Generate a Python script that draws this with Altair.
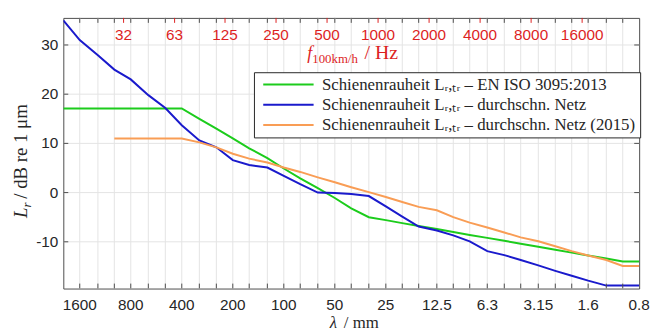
import altair as alt
import pandas as pd

# --- data ---------------------------------------------------------------
wavelength_mm = [2000, 1600, 1250, 1000, 800, 630, 500, 400, 315, 250, 200, 160,
                 125, 100, 80, 63, 50, 40, 31.5, 25, 20, 16, 12.5, 10, 8, 6.3,
                 5, 4, 3.15, 2.5, 2, 1.6, 1.25, 1, 0.8]

rail_iso3095 = [17.1, 17.1, 17.1, 17.1, 17.1, 17.1, 17.1, 17.1, 15.0, 13.0, 11.0, 9.0,
                7.0, 4.9, 2.9, 0.9, -1.1, -3.2, -5.0, -5.6, -6.2, -6.8, -7.4, -8.0,
                -8.6, -9.2, -9.8, -10.4, -11.0, -11.6, -12.2, -12.8, -13.4, -14.0, -14.0]

rail_netz = [35.0, 31.0, 27.9, 25.0, 23.0, 19.8, 17.2, 13.7, 10.6, 9.2, 6.6, 5.6,
             5.1, 3.4, 1.7, 0.0, -0.1, -0.3, -0.7, -2.8, -4.9, -6.9, -7.7, -8.7,
             -9.9, -11.9, -12.7, -13.7, -14.8, -15.9, -16.9, -17.9, -18.9, -18.9, -18.9]

rail_netz_2015 = [None, None, None, 11.0, 11.0, 11.0, 11.0, 11.0, 10.2, 9.2, 7.9, 6.9,
                  6.1, 5.1, 4.2, 3.1, 2.1, 1.1, 0.1, -0.9, -1.9, -2.9, -3.6, -5.0,
                  -6.1, -7.1, -8.1, -9.1, -9.9, -10.9, -11.9, -12.8, -13.7, -14.9, -14.9]

series_names = [
    "Schienenrauheit Lᵣ,ₜᵣ – EN ISO 3095:2013",
    "Schienenrauheit Lᵣ,ₜᵣ – durchschn. Netz",
    "Schienenrauheit Lᵣ,ₜᵣ – durchschn. Netz (2015)",
]
series_colors = ["#1ccc1c", "#1a1acc", "#f99d55"]
series_widths = [2, 2, 1.5]

octave_ticks_mm = [1600, 800, 400, 200, 100, 50, 25, 12.5, 6.3, 3.15, 1.6, 0.8]
octave_labels = ["1600", "800", "400", "200", "100", "50", "25", "12.5", "6.3", "3.15", "1.6", "0.8"]
freq_hz = [31.5, 63, 125, 250, 500, 1000, 2000, 4000, 8000, 16000]
freq_labels = ["32", "63", "125", "250", "500", "1000", "2000", "4000", "8000", "16000"]
speed_kmh = 100
y_ticks = [-10, 0, 10, 20, 30]
y_labels = ["-10", "0", "10", "20", "30"]

# --- tables -------------------------------------------------------------
rows = []
for name, vals in zip(series_names, [rail_iso3095, rail_netz, rail_netz_2015]):
    for lam, v in zip(wavelength_mm, vals):
        if v is not None:
            rows.append({"lam": lam, "L": v, "series": name})
df = pd.DataFrame(rows)

speed_mm_s = speed_kmh / 3.6 * 1000.0
df_f = pd.DataFrame({"f": freq_hz, "label": freq_labels})
df_f["lam"] = speed_mm_s / df_f["f"]

df_band = pd.DataFrame({"lam": wavelength_mm[1:-1]})
df_oct = pd.DataFrame({"lam": octave_ticks_mm, "label": octave_labels})
df_y = pd.DataFrame({"y": y_ticks, "label": y_labels})
one = pd.DataFrame({"k": [0]})

W, H = 583, 274
RED = "#dd1f1f"
INK = "#262626"
FRAME = "#4d4d4d"
GRID = "#e4e4e4"
SANS = "Liberation Sans"
SERIF = "Liberation Serif"

xs = alt.Scale(type="log", domain=[0.8, 2000], reverse=True, nice=False)
ys = alt.Scale(domain=[-19.5, 35.5], nice=False, zero=False)


def X(field="lam"):
    return alt.X(f"{field}:Q", scale=xs, axis=None)


def Y(field):
    return alt.Y(f"{field}:Q", scale=ys, axis=None)


# grid
vgrid = alt.Chart(df_band).mark_rule(color=GRID, strokeWidth=1).encode(x=X())
hgrid = alt.Chart(df_y).mark_rule(color=GRID, strokeWidth=1).encode(y=Y("y"))

lines = alt.Chart(df).mark_line(clip=True).encode(
    x=X(),
    y=Y("L"),
    color=alt.Color("series:N", scale=alt.Scale(domain=series_names, range=series_colors),
                    legend=alt.Legend(orient="none", legendX=193, legendY=55, title=None,
                                      symbolType="M-5,0H5", symbolSize=104,
                                      symbolStrokeWidth=2, symbolOffset=22.4,
                                      labelFont=SERIF, labelFontSize=17, labelColor=INK,
                                      labelLimit=0, labelOffset=25.4, rowPadding=2.5,
                                      padding=4, strokeColor=INK, fillColor="white")),
    strokeWidth=alt.StrokeWidth("series:N",
                                scale=alt.Scale(domain=series_names, range=series_widths),
                                legend=None),
    order=alt.Order("lam:Q"),
)

# inward ticks on all four sides
tick_bottom = alt.Chart(df_band).mark_rule(color=FRAME).encode(
    x=X(), y=alt.value(H), y2=alt.value(H - 5))
tick_top = alt.Chart(df_band).mark_rule(color=FRAME).encode(
    x=X(), y=alt.value(0), y2=alt.value(5))
tick_top_red = alt.Chart(df_f).mark_rule(color=RED).encode(
    x=X(), y=alt.value(0), y2=alt.value(5))
tick_left = alt.Chart(df_y).mark_rule(color=FRAME).encode(
    y=Y("y"), x=alt.value(0), x2=alt.value(5))
tick_right = alt.Chart(df_y).mark_rule(color=FRAME).encode(
    y=Y("y"), x=alt.value(W - 5), x2=alt.value(W))

# tick labels
bottom_labels = alt.Chart(df_oct).mark_text(font=SANS, fontSize=15.5, color=INK,
                                            baseline="top", align="center").encode(
    x=X(), y=alt.value(H + 10), text="label:N")
left_labels = alt.Chart(df_y).mark_text(font=SANS, fontSize=15.5, color=INK,
                                        baseline="middle", align="right").encode(
    y=Y("y"), x=alt.value(-5), text="label:N")
top_labels = alt.Chart(df_f).mark_text(font=SANS, fontSize=15.5, color=RED,
                                       baseline="middle", align="center").encode(
    x=X(), y=alt.value(17), text="label:N")

# x axis title  λ / mm
x_lam = alt.Chart(one).mark_text(text="λ", font=SERIF, fontSize=17, fontStyle="italic",
                                 color=INK, align="right", baseline="alphabetic").encode(
    x=alt.value(277), y=alt.value(H + 40))
x_mm = alt.Chart(one).mark_text(text="/ mm", font=SERIF, fontSize=17, color=INK,
                                align="left", baseline="alphabetic").encode(
    x=alt.value(284), y=alt.value(H + 40))

# top axis title  f_{100km/h} / Hz
t_f = alt.Chart(one).mark_text(text="f", font=SERIF, fontSize=18, fontStyle="italic",
                               color=RED, align="right", baseline="alphabetic").encode(
    x=alt.value(252), y=alt.value(42))
t_sub = alt.Chart(one).mark_text(text="100km/h", font=SERIF, fontSize=13, color=RED,
                                 align="left", baseline="alphabetic").encode(
    x=alt.value(252), y=alt.value(46))
t_hz = alt.Chart(one).mark_text(text="/ Hz", font=SERIF, fontSize=20, color=RED,
                                align="left", baseline="alphabetic").encode(
    x=alt.value(305), y=alt.value(42))

# y axis title  L_r / dB re 1 µm (rotated)
y_L = alt.Chart(one).mark_text(text="L", font=SERIF, fontSize=19, fontStyle="italic",
                               color=INK, align="right", baseline="alphabetic",
                               angle=270).encode(x=alt.value(-37), y=alt.value(192))
y_r = alt.Chart(one).mark_text(text="r", font=SERIF, fontSize=13, fontStyle="italic",
                               color=INK, align="left", baseline="alphabetic",
                               angle=270, dy=4).encode(x=alt.value(-37), y=alt.value(192))
y_rest = alt.Chart(one).mark_text(text=" / dB re 1 μm", font=SERIF, fontSize=19,
                                  color=INK, align="left", baseline="alphabetic",
                                  angle=270, dx=9).encode(x=alt.value(-37), y=alt.value(192))

chart = alt.layer(
    vgrid, hgrid, lines, tick_bottom, tick_top, tick_top_red, tick_left, tick_right,
    bottom_labels, left_labels, top_labels, x_lam, x_mm, t_f, t_sub, t_hz,
    y_L, y_r, y_rest,
).properties(
    width=W, height=H,
    autosize=alt.AutoSizeParams(type="none"),
    padding={"left": 56, "top": 8, "right": 13, "bottom": 45},
    background="white",
).configure_view(stroke=FRAME, strokeWidth=1)

chart.save("out.html", embed_options={"renderer": "svg", "actions": False})
